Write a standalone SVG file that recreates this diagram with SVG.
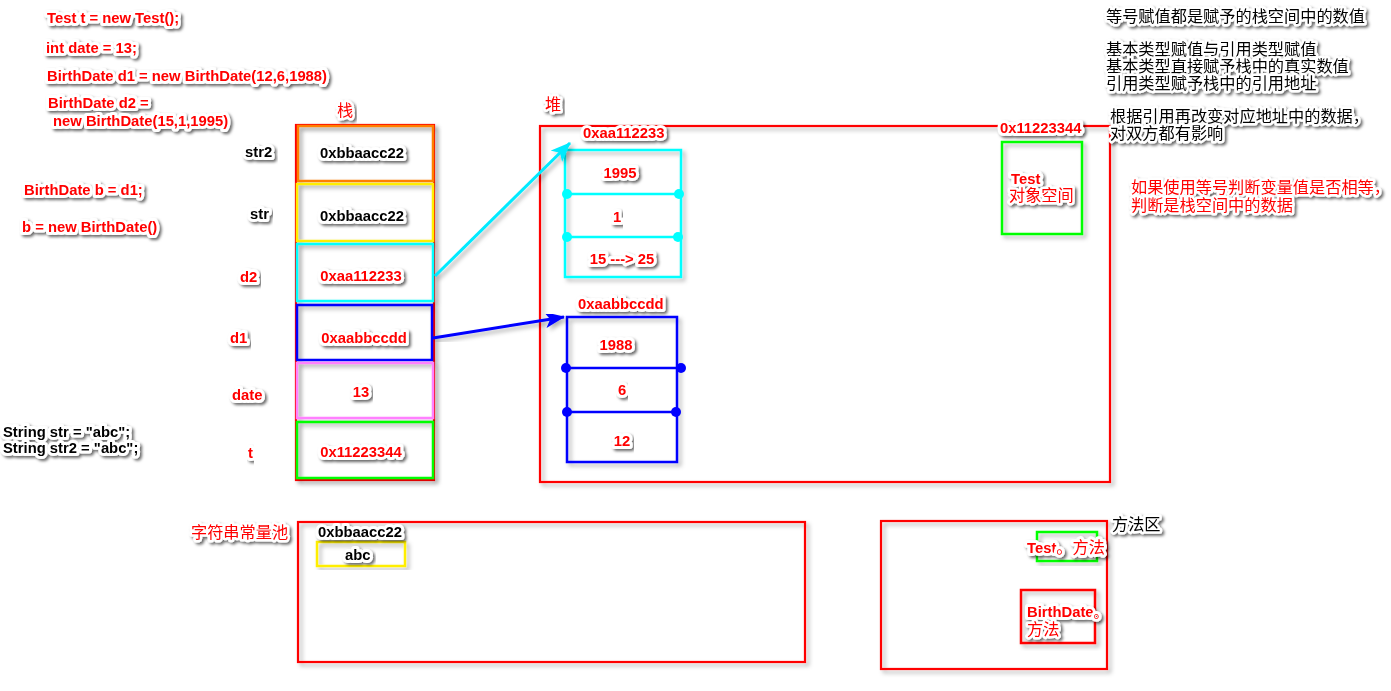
<svg xmlns="http://www.w3.org/2000/svg" width="1391" height="691" viewBox="0 0 1391 691">
  <style>
    .t { font-family: "Liberation Sans", Arial, sans-serif; font-weight: bold; font-size: 14.8px; paint-order: stroke; stroke: #fff; stroke-width: 6; stroke-linejoin: round; filter: url(#tsh); }
    .cn { font-family: "Noto Sans CJK SC", "Liberation Sans", sans-serif; font-size: 16.2px; paint-order: stroke; stroke: #fff; stroke-width: 5; stroke-linejoin: round; filter: url(#tsh); }
    .r { fill: #ff0000; }
    .k { fill: #000; }
    .mid { text-anchor: middle; }
    .box { fill: none; stroke-width: 2.5; filter: url(#bsh); }
    .red { stroke: #ff0000; }
    .frame { fill: none; stroke: #ff0000; stroke-width: 2.2; filter: url(#bsh); }
  </style>
  <defs>
    <filter id="tsh" x="-20%" y="-50%" width="140%" height="200%">
      <feDropShadow dx="2" dy="2" stdDeviation="1.5" flood-color="#000" flood-opacity="0.6"/>
    </filter>
    <filter id="bsh" x="-10%" y="-10%" width="125%" height="125%">
      <feDropShadow dx="3" dy="3" stdDeviation="2" flood-color="#000" flood-opacity="0.3"/>
    </filter>
    <marker id="ahC" viewBox="0 0 20 16" refX="19" refY="8" markerWidth="20" markerHeight="16" markerUnits="userSpaceOnUse" orient="auto">
      <path d="M0,0 L20,8 L0,16 L5,8 Z" fill="#00eaff"/>
    </marker>
    <marker id="ahB" viewBox="0 0 20 16" refX="19" refY="8" markerWidth="20" markerHeight="16" markerUnits="userSpaceOnUse" orient="auto">
      <path d="M0,0 L20,8 L0,16 L5,8 Z" fill="#0000ff"/>
    </marker>
  </defs>
  <rect width="1391" height="691" fill="#fff"/>

  <!-- source code notes -->
  <g id="code">
    <text class="t r" x="47" y="23">Test t = new Test();</text>
    <text class="t r" x="46" y="53">int date = 13;</text>
    <text class="t r" x="47" y="81">BirthDate d1 = new BirthDate(12,6,1988)</text>
    <text class="t r" x="48" y="108">BirthDate d2 =</text>
    <text class="t r" x="53" y="126">new BirthDate(15,1,1995)</text>
    <text class="t r" x="24" y="195">BirthDate b = d1;</text>
    <text class="t r" x="22" y="232">b = new BirthDate()</text>
    <text class="t k" x="3" y="437">String str = "abc";</text>
    <text class="t k" x="3" y="453">String str2  = "abc";</text>
  </g>

  <!-- variable names -->
  <g id="varnames">
    <text class="t k" x="245" y="157">str2</text>
    <text class="t k" x="250" y="219">str</text>
    <text class="t r" x="240" y="282">d2</text>
    <text class="t r" x="230" y="343">d1</text>
    <text class="t r" x="232" y="400">date</text>
    <text class="t r" x="248" y="458">t</text>
  </g>

  <!-- stack -->
  <g id="stack">
    <text class="cn r" x="337" y="116">栈</text>
    <rect class="frame" x="296" y="125" width="138" height="355"/>
    <rect class="box" stroke="#ff7f00" x="298" y="126" width="135" height="55"/>
    <rect class="box" stroke="#ffee00" x="297" y="184" width="136" height="57"/>
    <rect class="box" stroke="#00ffff" x="297" y="244" width="136" height="57"/>
    <rect class="box" stroke="#0000ff" x="297" y="305" width="135" height="55"/>
    <rect class="box" stroke="#ff80ff" x="297" y="363" width="136" height="55"/>
    <rect class="box" stroke="#00ff00" x="297" y="422" width="136" height="56"/>
    <text class="t k mid" x="362" y="158">0xbbaacc22</text>
    <text class="t k mid" x="362" y="221">0xbbaacc22</text>
    <text class="t r mid" x="361" y="281">0xaa112233</text>
    <text class="t r mid" x="364" y="343">0xaabbccdd</text>
    <text class="t r mid" x="361" y="397">13</text>
    <text class="t r mid" x="361" y="457">0x11223344</text>
  </g>

  <!-- heap -->
  <g id="heap">
    <text class="cn r" x="545" y="110">堆</text>
    <rect class="frame" x="540" y="126" width="570" height="356"/>
  </g>

  <g id="obj-d2">
    <rect class="box" stroke="#00ffff" x="565" y="150" width="116" height="127"/>
    <g stroke="#00ffff" stroke-width="2.5" fill="#00ffff">
      <line x1="567" y1="194" x2="679" y2="194"/>
      <line x1="567" y1="237" x2="678" y2="237"/>
      <circle cx="567" cy="194" r="5" stroke="none"/>
      <circle cx="679" cy="194" r="5" stroke="none"/>
      <circle cx="567" cy="237" r="5" stroke="none"/>
      <circle cx="678" cy="237" r="5" stroke="none"/>
    </g>
    <text class="t r" x="583" y="138">0xaa112233</text>
    <text class="t r mid" x="620" y="178">1995</text>
    <text class="t r mid" x="617" y="222">1</text>
    <text class="t r mid" x="622" y="264">15 ---&gt; 25</text>
  </g>

  <g id="obj-d1">
    <rect class="box" stroke="#0000ff" x="567" y="317" width="110" height="145"/>
    <g stroke="#0000ff" stroke-width="2.5" fill="#0000ff">
      <line x1="566" y1="368" x2="681" y2="368"/>
      <line x1="567" y1="412" x2="676" y2="412"/>
      <circle cx="566" cy="368" r="5" stroke="none"/>
      <circle cx="681" cy="368" r="5" stroke="none"/>
      <circle cx="567" cy="412" r="5" stroke="none"/>
      <circle cx="676" cy="412" r="5" stroke="none"/>
    </g>
    <text class="t r" x="578" y="309">0xaabbccdd</text>
    <text class="t r mid" x="616" y="350">1988</text>
    <text class="t r mid" x="622" y="395">6</text>
    <text class="t r mid" x="622" y="446">12</text>
  </g>

  <g id="obj-test">
    <rect class="box" stroke="#00ff00" x="1002" y="142" width="80" height="92"/>
    <text class="t r" x="1000" y="133">0x11223344</text>
    <text class="t r" x="1011" y="184">Test</text>
    <text class="cn r" x="1009" y="201">对象空间</text>
  </g>

  <!-- references from stack to heap -->
  <g id="connectors">
    <line x1="435" y1="276" x2="570" y2="143" stroke="#00eaff" stroke-width="3" marker-end="url(#ahC)" filter="url(#bsh)"/>
    <line x1="433" y1="338" x2="564" y2="317" stroke="#0000ff" stroke-width="3" marker-end="url(#ahB)" filter="url(#bsh)"/>
  </g>

  <!-- string constant pool -->
  <g id="string-pool">
    <text class="cn r" x="191" y="538">字符串常量池</text>
    <rect class="frame" x="298" y="522" width="507" height="140"/>
    <rect class="box" stroke="#ffee00" x="317" y="542" width="88" height="24"/>
    <text class="t k" x="318" y="537">0xbbaacc22</text>
    <text class="t k" x="345" y="560">abc</text>
  </g>

  <!-- method area -->
  <g id="method-area">
    <rect class="frame" x="881" y="521" width="226" height="148"/>
    <text class="cn k" x="1112" y="530">方法区</text>
    <rect class="box" stroke="#00ff00" x="1037" y="532" width="60" height="29"/>
    <text class="t r" x="1027" y="553">Test<tspan style="font-family:'Noto Sans CJK SC',sans-serif;font-weight:normal;font-size:16.2px">。方法</tspan></text>
    <rect class="box red" x="1021" y="590" width="74" height="53"/>
    <text class="t r" x="1027" y="617">BirthDate<tspan style="font-family:'Noto Sans CJK SC',sans-serif;font-weight:normal">。</tspan></text>
    <text class="cn r" x="1027" y="635">方法</text>
  </g>

  <!-- notes -->
  <g id="notes">
    <text class="cn k" x="1106" y="22">等号赋值都是赋予的栈空间中的数值</text>
    <text class="cn k" x="1106" y="55">基本类型赋值与引用类型赋值</text>
    <text class="cn k" x="1106" y="72">基本类型直接赋予栈中的真实数值</text>
    <text class="cn k" x="1106" y="89">引用类型赋予栈中的引用地址</text>
    <text class="cn k" x="1110" y="122">根据引用再改变对应地址中的数据，</text>
    <text class="cn k" x="1110" y="139">对双方都有影响</text>
    <text class="cn r" x="1131" y="193">如果使用等号判断变量值是否相等，</text>
    <text class="cn r" x="1131" y="211">判断是栈空间中的数据</text>
  </g>
</svg>
